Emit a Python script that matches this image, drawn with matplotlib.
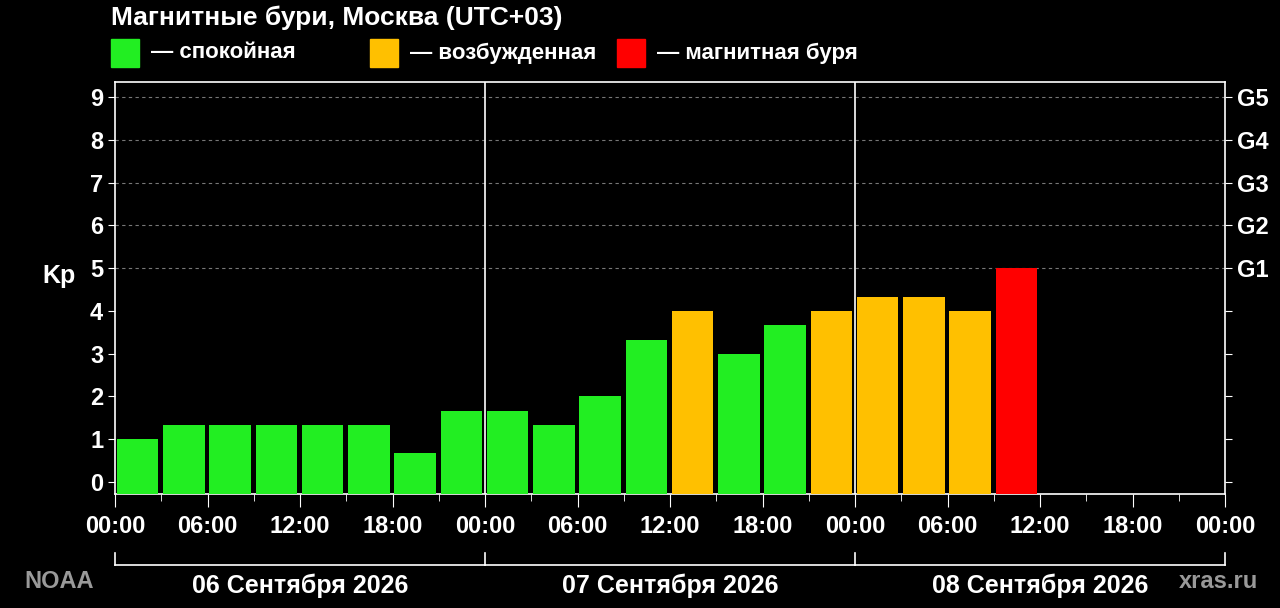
import matplotlib
matplotlib.use("Agg")
import matplotlib.pyplot as plt
import numpy as np

kp = [1, 1.33, 1.33, 1.33, 1.33, 1.33, 0.67, 1.67,
      1.67, 1.33, 2, 3.33, 4, 3, 3.67, 4,
      4.33, 4.33, 4, 5]
levels = ["q", "q", "q", "q", "q", "q", "q", "q",
          "q", "q", "q", "q", "a", "q", "q", "a",
          "a", "a", "a", "s"]
colors = {"q": "#22ee22", "a": "#ffc000", "s": "#ff0000"}
tick_labels = ["00:00", "06:00", "12:00", "18:00"] * 3 + ["00:00"]
days = ["06 Сентября 2026", "07 Сентября 2026", "08 Сентября 2026"]
g_labels = ["G1", "G2", "G3", "G4", "G5"]
legend_items = [("q", "— спокойная"), ("a", "— возбужденная"), ("s", "— магнитная буря")]

plt.rcParams['font.family'] = ['Liberation Sans', 'DejaVu Sans']
plt.rcParams['font.weight'] = 'bold'
fig = plt.figure(figsize=(12.8, 6.08), dpi=100, facecolor='black')
ax = fig.add_axes([115/1280, 1-494/608, 1110/1280, (494-82)/608], facecolor='black')

YMIN = -0.28
hours = np.arange(len(kp)) * 3
ax.bar(hours + 0.12, np.array(kp) - YMIN, bottom=YMIN, width=2.7, align='edge',
       color=[colors[l] for l in levels], zorder=3)
ax.set_xlim(0, 72)
ax.set_ylim(YMIN, 9.35)
for y in range(5, 10):
    ax.axhline(y, color='#777777', lw=0.8, ls=(0, (3, 3)), zorder=1)
for x in (24, 48):
    ax.axvline(x, color='white', lw=1.2, zorder=4)
for s in ax.spines.values():
    s.set_color('white'); s.set_linewidth(1.2)
ax.set_xticks(np.arange(0, 73, 6))
ax.set_xticklabels(tick_labels, color='white', fontsize=17, fontweight='bold')
ax.set_xticks(np.arange(3, 72, 6), minor=True)
ax.tick_params(axis='x', which='major', length=9, color='white', pad=6)
ax.tick_params(axis='x', which='minor', length=5, color='white')
ax.set_yticks(range(10))
ax.set_yticklabels([str(i) for i in range(10)], color='white', fontsize=17, fontweight='bold')
ax.tick_params(axis='y', length=5, color='white')
ax.set_ylabel("Kp", color='white', fontsize=18, fontweight='bold', rotation=0, labelpad=22)
ax2 = ax.twinx()
ax2.set_ylim(ax.get_ylim())
ax2.set_yticks(range(10))
ax2.set_yticklabels([""] * 5 + g_labels, color='white', fontsize=17, fontweight='bold')
ax2.tick_params(axis='y', length=5, color='white')
for s in ax2.spines.values():
    s.set_visible(False)

# day brackets
trans = ax.get_xaxis_transform()
yb = -(565-494)/412
for i, d in enumerate(days):
    x0, x1 = i*24, (i+1)*24
    ax.plot([x0, x1], [yb, yb], color='white', lw=1.2, transform=trans, clip_on=False)
    ax.text((x0+x1)/2, yb-0.02, d, color='white', fontsize=18, fontweight='bold',
            ha='center', va='top', transform=trans)
for x in (0, 24, 48, 72):
    ax.plot([x, x], [yb, yb+0.03], color='white', lw=1.2, transform=trans, clip_on=False)

fig.text(24/1280, 1-582/608, "NOAA", color='#999999', fontsize=17, fontweight='bold', va='center')
fig.text(1258/1280, 1-582/608, "xras.ru", color='#999999', fontsize=17, ha='right', va='center')
fig.text(111/1280, 1-18/608, "Магнитные бури, Москва (UTC+03)", color='white',
         fontsize=19, fontweight='bold', va='center')
for (k, lab), x in zip(legend_items, (111, 370, 617)):
    fig.patches.append(plt.Rectangle((x/1280, 1-67/608), 28/1280, 28/608,
                                     color=colors[k], transform=fig.transFigure))
    fig.text((x+40)/1280, 1-53/608, lab, color='white', fontsize=16, fontweight='bold', va='center')

fig.savefig("out.png", dpi=100, facecolor='black')
